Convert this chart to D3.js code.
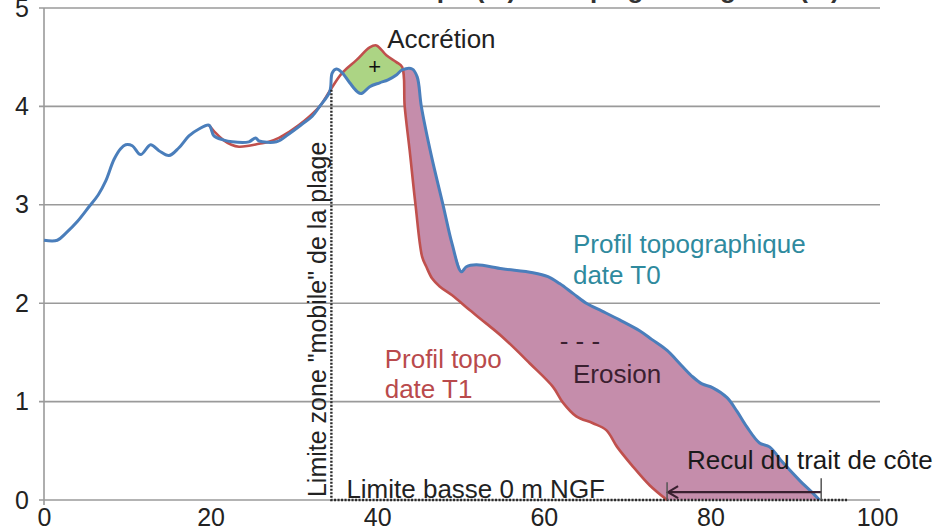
<!DOCTYPE html>
<html>
<head>
<meta charset="utf-8">
<script src="https://cdn.jsdelivr.net/npm/d3@7"></script>
<style>
  body { margin: 0; background: #fff; }
  svg { display: block; font-family: "Liberation Sans", Arial, sans-serif; }
</style>
</head>
<body>
<div id="chart"></div>
<script>
// profil T0 (bleu) : distance (m), altitude (m NGF)
const xT0 = [0, 1.6, 2.6, 4, 5.4, 6.5, 7.4, 8.4, 9.2, 9.8, 10.6, 11.6, 12.8, 13.8, 15, 16.2, 17.4, 18.6, 19.8,
  20.4, 21.5, 22.6, 24.6, 25.4, 25.8, 27.9, 29.4, 31, 32.2, 33.1, 34.3, 34.6, 35.1, 35.7, 36.7, 37.6, 38.1,
  39.1, 40.3, 41.3, 42.3, 43, 44.2, 44.8, 45.3, 46.5, 47.9, 49, 50.1, 50.7, 51.9, 55, 58.7, 60.5, 61.9,
  63.5, 65.1, 67, 69.1, 71.5, 73, 74.8, 76.5, 77.9, 79, 80.3, 82, 83.2, 84.4, 85.9, 87.1, 88.7, 90.7, 92.3, 93.1];
const yT0 = [2.64, 2.64, 2.71, 2.83, 2.98, 3.1, 3.24, 3.46, 3.57, 3.61, 3.6, 3.51, 3.61, 3.55, 3.5, 3.58, 3.7, 3.77, 3.81,
  3.7, 3.66, 3.64, 3.64, 3.68, 3.65, 3.64, 3.72, 3.82, 3.9, 4.0, 4.15, 4.34, 4.38, 4.35, 4.24, 4.15, 4.13,
  4.2, 4.24, 4.27, 4.32, 4.37, 4.38, 4.3, 4.0, 3.5, 3.0, 2.6, 2.32, 2.37, 2.39, 2.35, 2.31, 2.27, 2.2,
  2.1, 2.0, 1.92, 1.83, 1.72, 1.63, 1.52, 1.37, 1.25, 1.18, 1.14, 1.04, 0.9, 0.74, 0.58, 0.54, 0.38, 0.2, 0.07, 0];

// profil T1 (rouge)
const xT1 = [19.8, 20.6, 21.5, 22.5, 23.4, 24.6, 25.8, 27, 28.2, 29.4, 30.6, 31.9, 33.1, 34.4, 35.8, 37.5, 39.1,
  39.9, 41.1, 42.3, 43, 43.3, 43.9, 44.6, 45.4, 45.9, 46.6, 47.5, 49, 51.1, 53, 55, 58.3, 61.1, 62.3, 63.9,
  65.9, 67.5, 68.8, 70.7, 72.7, 74.8];
const yT1 = [3.81, 3.73, 3.66, 3.61, 3.59, 3.6, 3.62, 3.64, 3.68, 3.74, 3.81, 3.9, 4.0, 4.17, 4.34, 4.47, 4.6,
  4.62, 4.52, 4.45, 4.4, 4.0, 3.55, 3.0, 2.47, 2.37, 2.25, 2.17, 2.08, 1.93, 1.8, 1.66, 1.39, 1.15, 0.99, 0.85,
  0.78, 0.71, 0.54, 0.34, 0.15, 0];

const xTicks = [0, 20, 40, 60, 80, 100];
const yTicks = [0, 1, 2, 3, 4, 5];

// limites et recul (m)
const limiteMobile = [34.5, 4.17];   // x, altitude haute
const limiteBasseFin = 96.5;
const recul = [74.8, 93.3];          // trait de côte T1, T0
const accretionRange = [35.5, 43.0];
const erosionStart = 42.9;

const margin = {top: 8, right: 70, bottom: 29, left: 44};
const W = 947, H = 529;
const width = W - margin.left - margin.right;
const height = H - margin.top - margin.bottom;

const svg = d3.select("#chart").append("svg")
  .attr("width", W).attr("height", H)
  .append("g")
  .attr("transform", "translate(" + margin.left + "," + margin.top + ")");

const x = d3.scaleLinear().domain([0, 100]).range([0, width]);
const y = d3.scaleLinear().domain([0, 5]).range([height, 0]);

const T0 = xT0.map((d, i) => [d, yT0[i]]);
const T1 = xT1.map((d, i) => [d, yT1[i]]);

// titre coupé en haut (seul le bas des lettres est visible)
svg.append("text")
  .attr("x", 530).attr("y", -10)
  .attr("text-anchor", "middle")
  .style("font-size", "26px").style("font-weight", "bold").attr("fill", "#333")
  .text("Altitude topo (m) de la plage - longueur (m)");

// grille
svg.append("g").selectAll("line").data(yTicks).join("line")
  .attr("x1", -5).attr("x2", width + 3)
  .attr("y1", d => y(d)).attr("y2", d => y(d))
  .attr("stroke", "#9a9a9a").attr("stroke-width", 1.6);
svg.append("line")
  .attr("x1", 0).attr("x2", 0).attr("y1", 0).attr("y2", height + 5)
  .attr("stroke", "#9a9a9a").attr("stroke-width", 1.6);

// axes
const yAxis = svg.append("g")
  .call(d3.axisLeft(y).tickValues(yTicks).tickFormat(d3.format("d")).tickSize(0).tickPadding(15));
const xAxis = svg.append("g").attr("transform", "translate(0," + height + ")")
  .call(d3.axisBottom(x).tickValues(xTicks).tickFormat(d3.format("d")).tickSize(0).tickPadding(8));
[yAxis, xAxis].forEach(a => {
  a.select(".domain").remove();
  a.selectAll("text").style("font-size", "25px").style("font-family", "Liberation Sans, Arial").attr("fill", "#222");
});

const line = d3.line().x(d => x(d[0])).y(d => y(d[1]));
const smooth = d3.line().x(d => x(d[0])).y(d => y(d[1])).curve(d3.curveCatmullRom.alpha(0.5));

// zone d'érosion
const erosion = T0.filter(d => d[0] >= erosionStart).concat(T1.filter(d => d[0] >= erosionStart).reverse());
svg.append("path").attr("d", line(erosion) + "Z").attr("fill", "#c58dab");

// zone d'accrétion
const accretion = T1.filter(d => d[0] >= accretionRange[0] && d[0] <= accretionRange[1])
  .concat(T0.filter(d => d[0] >= accretionRange[0] && d[0] <= accretionRange[1]).reverse());
svg.append("path").attr("d", line(accretion) + "Z").attr("fill", "#acd484");

// profils
svg.append("path").attr("d", smooth(T1)).attr("fill", "none")
  .attr("stroke", "#c0504d").attr("stroke-width", 2.6).attr("stroke-linejoin", "round");
svg.append("path").attr("d", smooth(T0)).attr("fill", "none")
  .attr("stroke", "#4a7ebb").attr("stroke-width", 3).attr("stroke-linejoin", "round");

// limites pointillées
svg.append("path")
  .attr("d", line([[limiteMobile[0], limiteMobile[1]], [limiteMobile[0], 0], [limiteBasseFin, 0]]))
  .attr("fill", "none").attr("stroke", "#2a2a2a").attr("stroke-width", 2.4).attr("stroke-dasharray", "2,1.5");

// recul du trait de côte
const ay = y(0.08);
svg.append("line").attr("x1", x(recul[1])).attr("x2", x(recul[0]) + 2).attr("y1", ay).attr("y2", ay)
  .attr("stroke", "#3a2030").attr("stroke-width", 2.4);
svg.append("path")
  .attr("d", "M" + (x(recul[0]) + 11) + "," + (ay - 6) + "L" + (x(recul[0]) + 1) + "," + ay + "L" + (x(recul[0]) + 11) + "," + (ay + 6))
  .attr("fill", "none").attr("stroke", "#3a2030").attr("stroke-width", 2.2);
recul.forEach((r, i) => {
  svg.append("line").attr("x1", x(r)).attr("x2", x(r)).attr("y1", y(0)).attr("y2", y(i ? 0.22 : 0.18))
    .attr("stroke", "#555").attr("stroke-width", 1.5);
});

// textes
const labels = [
  {t: "Accrétion", x: 41.2, y: 4.59, c: "#222"},
  {t: "Profil topographique", x: 63.5, y: 2.51, c: "#2f8a9e"},
  {t: "date T0", x: 63.5, y: 2.2, c: "#2f8a9e"},
  {t: "Profil topo", x: 40.9, y: 1.34, c: "#b94a4c"},
  {t: "date T1", x: 40.9, y: 1.04, c: "#b94a4c"},
  {t: "- - -", x: 61.9, y: 1.52, c: "#3a2030"},
  {t: "Erosion", x: 63.5, y: 1.19, c: "#3a2030"},
  {t: "Recul du trait de côte", x: 77.2, y: 0.31, c: "#1a1a1a"},
  {t: "Limite basse 0 m NGF", x: 36.3, y: 0.025, c: "#222"}
];
svg.append("g").selectAll("text").data(labels).join("text")
  .attr("x", d => x(d.x)).attr("y", d => y(d.y))
  .attr("fill", d => d.c).style("font-size", "26px")
  .text(d => d.t);

svg.append("text")
  .attr("x", x(39.7)).attr("y", y(4.41))
  .attr("text-anchor", "middle").attr("dominant-baseline", "central")
  .style("font-size", "22px").attr("fill", "#111").text("+");

svg.append("text")
  .attr("transform", "translate(" + x(33.8) + "," + y(0.03) + ") rotate(-90)")
  .style("font-size", "25px").attr("fill", "#222")
  .text('Limite zone "mobile" de la plage');
</script>
</body>
</html>
